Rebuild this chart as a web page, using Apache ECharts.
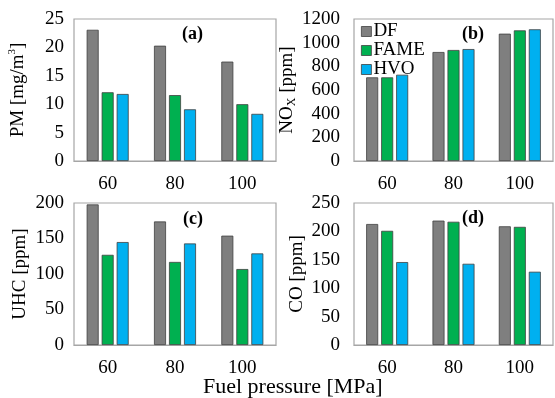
<!DOCTYPE html>
<html>
<head>
<meta charset="utf-8">
<script src="https://cdn.jsdelivr.net/npm/echarts@6/dist/echarts.min.js"></script>
<style>html,body{margin:0;padding:0;background:#fff}#c{width:555px;height:398px}</style>
</head>
<body>
<div id="c"></div>
<script>
const categories = ['60', '80', '100'];
const seriesNames = ['DF', 'FAME', 'HVO'];
const pmDF = [23.1, 20.3, 17.5];
const pmFAME = [12.1, 11.6, 10.0];
const pmHVO = [11.8, 9.1, 8.3];
const noxDF = [707, 921, 1076];
const noxFAME = [707, 938, 1104];
const noxHVO = [729, 946, 1113];
const uhcDF = [198, 174, 154];
const uhcFAME = [127, 117, 107];
const uhcHVO = [145, 143, 129];
const coDF = [213, 219, 209];
const coFAME = [201, 217, 208];
const coHVO = [146, 143, 129];
const yMax = [25, 1200, 200, 250];
const yStep = [5, 200, 50, 50];
const panelTags = ['(a)', '(b)', '(c)', '(d)'];

const font = 'Liberation Serif';
const colors = ['#7f7f7f', '#00b050', '#00b0f0'];
const grids = [
  {left: 74, top: 19, width: 202, height: 142},
  {left: 354, top: 19, width: 199, height: 142},
  {left: 74, top: 203, width: 202, height: 142},
  {left: 354, top: 203, width: 199, height: 142}
];
const yNames = [
  '{n|PM [mg/m}{sup|3}{n|]}',
  '{n|NO}{sub|X}{n| [ppm]}',
  '{n|UHC [ppm]}',
  '{n|CO [ppm]}'
];
const nameGaps = [45, 46, 43, 46];
const data = [
  [pmDF, pmFAME, pmHVO],
  [noxDF, noxFAME, noxHVO],
  [uhcDF, uhcFAME, uhcHVO],
  [coDF, coFAME, coHVO]
];

const option = {
  animation: false,
  textStyle: {fontFamily: font},
  grid: grids.map(g => Object.assign({show: true, borderColor: '#a6a6a6', borderWidth: 1.2, containLabel: false}, g)),
  xAxis: grids.map((g, i) => ({
    type: 'category', gridIndex: i, data: categories,
    axisTick: {show: false},
    axisLine: {lineStyle: {color: '#a6a6a6', width: 1.2}},
    axisLabel: {color: '#000', fontFamily: font, fontSize: 19, margin: 14}
  })),
  yAxis: grids.map((g, i) => ({
    type: 'value', gridIndex: i, min: 0, max: yMax[i], interval: yStep[i],
    splitLine: {show: false}, axisTick: {show: false}, axisLine: {show: false},
    axisLabel: {color: '#000', fontFamily: font, fontSize: 19, margin: i % 2 ? 14 : 10,
      formatter: v => String(v)},
    name: yNames[i], nameLocation: 'middle', nameGap: nameGaps[i], nameRotate: 90,
    nameTextStyle: {
      rich: {
        n: {fontFamily: font, fontSize: 19, color: '#000', lineHeight: 22, verticalAlign: 'middle'},
        sup: {fontFamily: font, fontSize: 11, color: '#000', lineHeight: 22, verticalAlign: 'top'},
        sub: {fontFamily: font, fontSize: 12, color: '#000', lineHeight: 22, verticalAlign: 'bottom'}
      }
    }
  })),
  legend: {
    data: seriesNames, orient: 'vertical', left: 361, top: 22, padding: 0,
    itemWidth: 10, itemHeight: 10, itemGap: 0, icon: 'rect', z: 10,
    textStyle: {fontFamily: font, fontSize: 19, color: '#000', lineHeight: 18, padding: [0, 0, 0, -3]},
    itemStyle: {borderColor: '#404040', borderWidth: 0.8}
  },
  graphic: panelTags.map((t, i) => ({
    type: 'text',
    left: [182, 462, 183, 462][i], top: [25, 25, 210, 209][i],
    style: {text: t, font: 'bold 18px "Liberation Serif"', fill: '#000'}
  })),
  series: []
};
data.forEach((set, i) => {
  set.forEach((vals, k) => {
    option.series.push({
      type: 'bar', name: seriesNames[k], xAxisIndex: i, yAxisIndex: i,
      data: vals, barWidth: 12, barGap: '25%',
      itemStyle: {color: colors[k], borderColor: '#404040', borderWidth: 0.8}
    });
  });
});
option.title = {
  text: 'Fuel pressure [MPa]', left: 198, top: 371,
  textStyle: {fontFamily: font, fontSize: 22, fontWeight: 'normal', color: '#000'}
};
const chart = echarts.init(document.getElementById('c'), null, {renderer: 'canvas'});
chart.setOption(option);
</script>
</body>
</html>
